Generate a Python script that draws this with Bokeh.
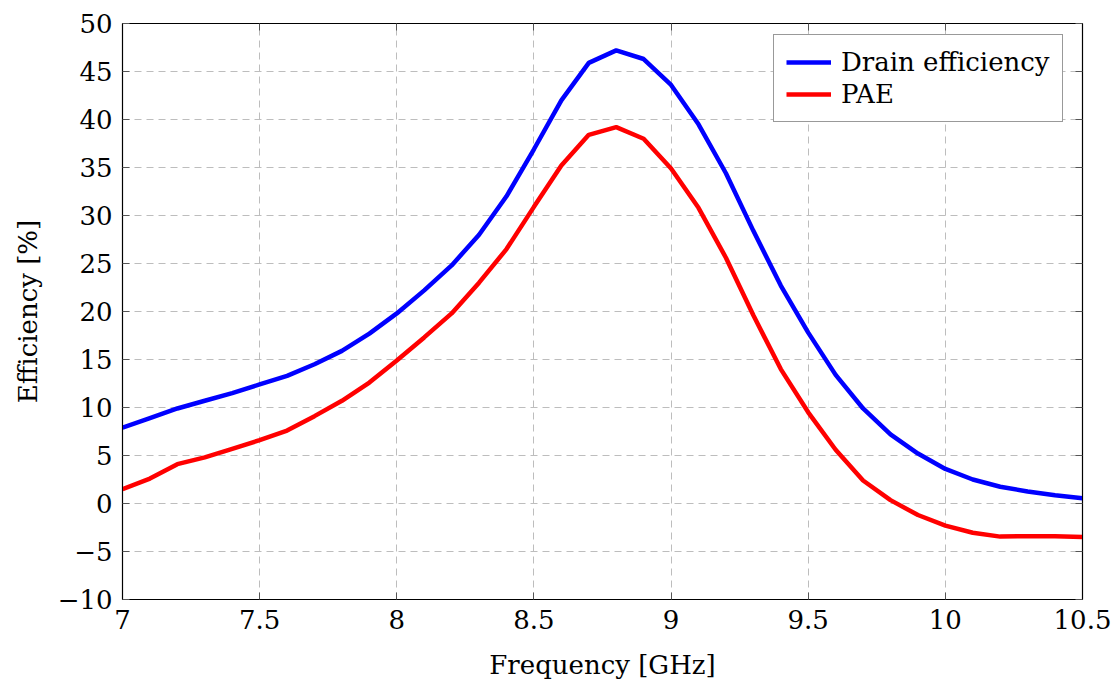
from bokeh.plotting import figure
from bokeh.models import FixedTicker, LinearAxis, CustomJSTickFormatter
from bokeh.embed import file_html
from bokeh.resources import INLINE

freq_ghz = [7.0, 7.1, 7.2, 7.3, 7.4, 7.5, 7.6, 7.7, 7.8, 7.9,
            8.0, 8.1, 8.2, 8.3, 8.4, 8.5, 8.6, 8.7, 8.8, 8.9,
            9.0, 9.1, 9.2, 9.3, 9.4, 9.5, 9.6, 9.7, 9.8, 9.9,
            10.0, 10.1, 10.2, 10.3, 10.4, 10.5]
drain_eff = [7.9, 8.9, 9.9, 10.7, 11.5, 12.4, 13.3, 14.5, 15.9, 17.7,
             19.8, 22.2, 24.8, 28.0, 32.0, 36.9, 42.0, 45.9, 47.2, 46.3,
             43.6, 39.5, 34.4, 28.4, 22.7, 17.8, 13.4, 9.9, 7.2, 5.2,
             3.6, 2.5, 1.75, 1.25, 0.85, 0.55]
pae = [1.5, 2.6, 4.1, 4.8, 5.7, 6.6, 7.6, 9.1, 10.7, 12.6,
       14.9, 17.3, 19.8, 23.0, 26.5, 30.9, 35.2, 38.4, 39.2, 38.0,
       34.9, 30.8, 25.6, 19.6, 14.0, 9.5, 5.6, 2.4, 0.35, -1.2,
       -2.3, -3.05, -3.45, -3.4, -3.4, -3.5]
x_ticks = [7, 7.5, 8, 8.5, 9, 9.5, 10, 10.5]
y_ticks = [-10, -5, 0, 5, 10, 15, 20, 25, 30, 35, 40, 45, 50]

FONT = "DejaVu Serif"
FS = "26px"

p = figure(frame_width=960, frame_height=576,
           x_range=(7, 10.5), y_range=(-10, 50),
           output_backend="svg", toolbar_location=None,
           min_border_left=122, min_border_right=36,
           min_border_top=23, min_border_bottom=84,
           background_fill_color="white", border_fill_color="white")

p.outline_line_color = "black"
p.outline_line_width = 1.2

fmt = CustomJSTickFormatter(code="""
    return tick < 0 ? "\\u2212" + String(Math.abs(tick)) : String(tick);
""")

for ax in p.xaxis:
    ax.ticker = FixedTicker(ticks=x_ticks)
    ax.formatter = fmt
    ax.axis_label = "Frequency [GHz]"
    ax.axis_label_standoff = 18
for ax in p.yaxis:
    ax.ticker = FixedTicker(ticks=y_ticks)
    ax.formatter = fmt
    ax.axis_label = "Efficiency [%]"
    ax.axis_label_standoff = 12

for ax in list(p.xaxis) + list(p.yaxis):
    ax.major_label_text_font = FONT
    ax.major_label_text_font_size = FS
    ax.major_label_text_color = "black"
    ax.axis_label_text_font = FONT
    ax.axis_label_text_font_size = FS
    ax.axis_label_text_font_style = "normal"
    ax.axis_label_text_color = "black"
    ax.major_tick_in = 7
    ax.major_tick_out = 0
    ax.major_tick_line_color = "#555555"
    ax.minor_tick_line_color = None
    ax.axis_line_color = "black"
    ax.major_label_standoff = 10

yr = LinearAxis(ticker=FixedTicker(ticks=y_ticks), major_label_text_font_size="1px",
                major_label_text_color=None,
                major_tick_in=7, major_tick_out=0, minor_tick_line_color=None,
                major_tick_line_color="#555555", axis_line_color="black",
                major_label_standoff=0)
xt = LinearAxis(ticker=FixedTicker(ticks=x_ticks), major_label_text_font_size="1px",
                major_label_text_color=None,
                major_tick_in=7, major_tick_out=0, minor_tick_line_color=None,
                major_tick_line_color="#555555", axis_line_color="black",
                major_label_standoff=0)
p.add_layout(yr, "right")
p.add_layout(xt, "above")

p.xgrid.ticker = FixedTicker(ticks=x_ticks)
p.ygrid.ticker = FixedTicker(ticks=y_ticks)
for g in [p.xgrid, p.ygrid]:
    g.grid_line_color = "#bdbdbd"
    g.grid_line_dash = "7 5"
    g.grid_line_width = 1

p.line(freq_ghz, drain_eff, line_color="#0000ff", line_width=4.5, legend_label="Drain efficiency")
p.line(freq_ghz, pae, line_color="#ff0000", line_width=4.5, legend_label="PAE")

lg = p.legend[0]
lg.location = (651, 477)
lg.margin = 0
lg.label_text_font = FONT
lg.label_text_font_size = FS
lg.label_text_color = "black"
lg.glyph_width = 45
lg.glyph_height = 28
lg.label_height = 28
lg.label_standoff = 10
lg.padding = 12
lg.spacing = 2
lg.border_line_color = "#333333"
lg.border_line_width = 1.2
lg.background_fill_color = "white"
lg.background_fill_alpha = 1.0

open("out.html", "w").write(file_html(p, INLINE))
